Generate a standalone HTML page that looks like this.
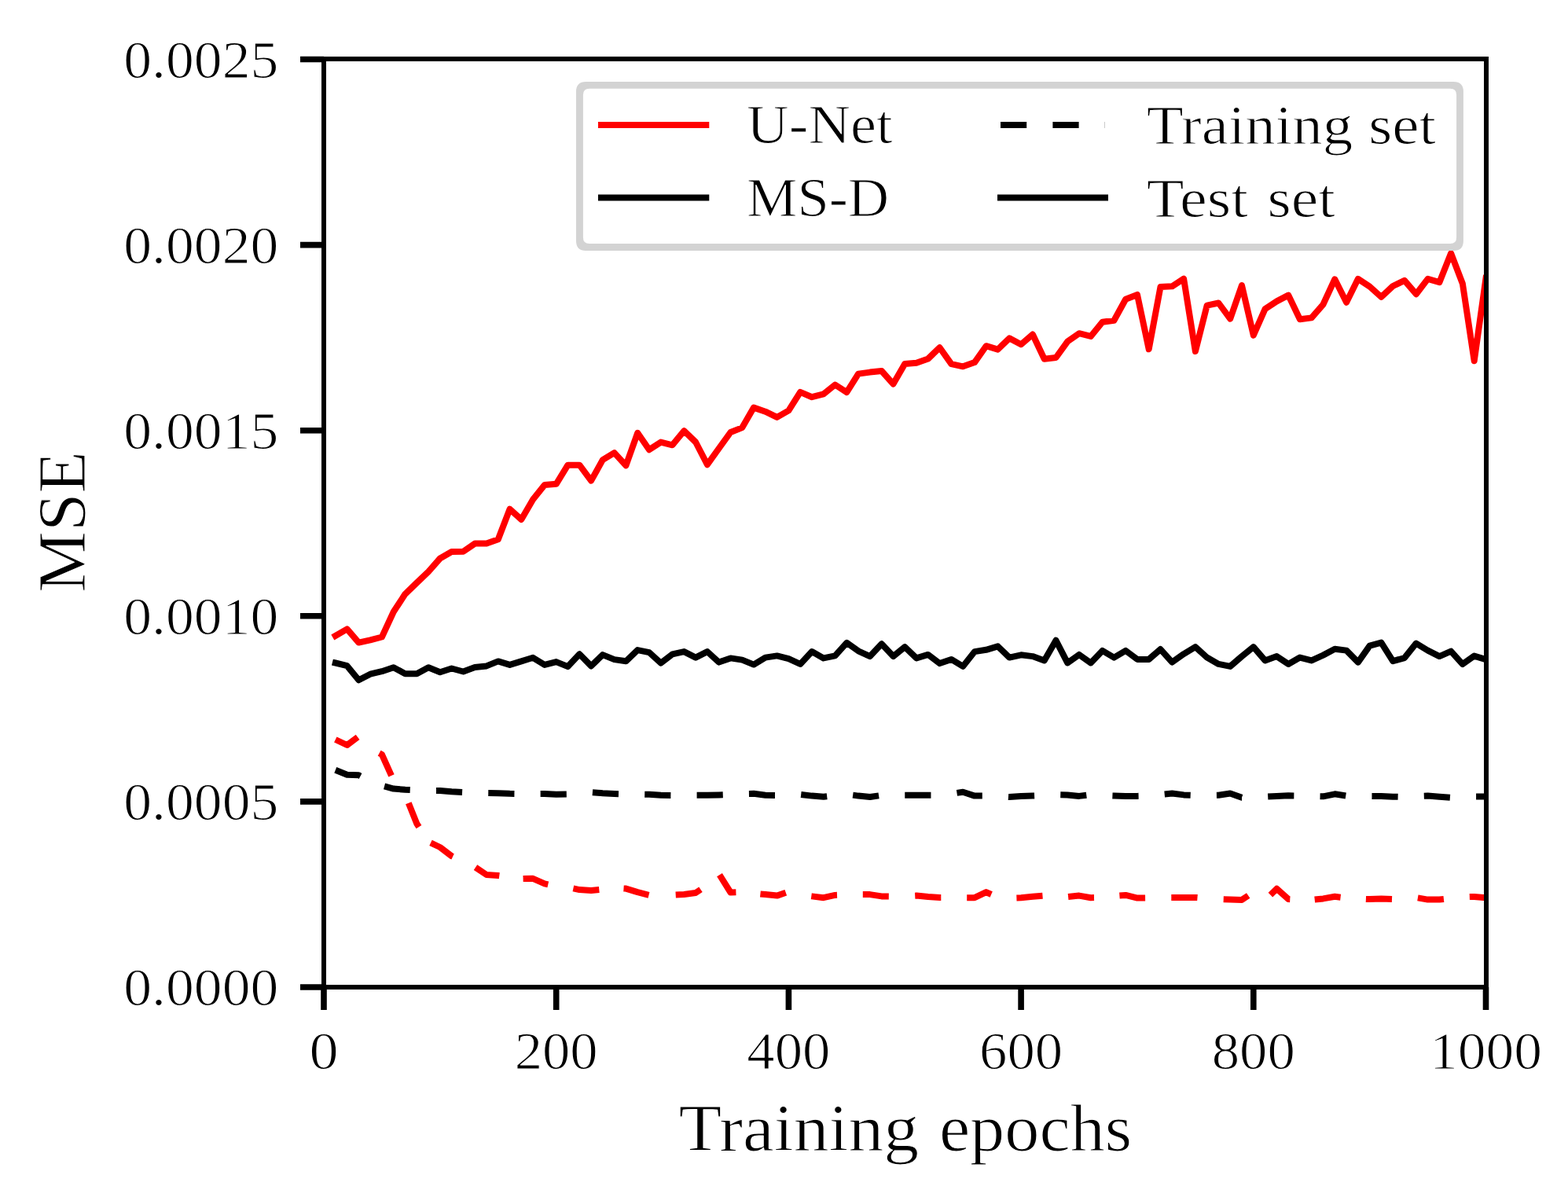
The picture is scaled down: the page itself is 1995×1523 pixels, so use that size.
<!DOCTYPE html>
<html><head><meta charset="utf-8"><title>MSE vs Training epochs</title>
<style>html,body{margin:0;padding:0;background:#fff;overflow:hidden;}svg{display:block;}text{font-family:"Liberation Serif", "DejaVu Serif", serif;fill:#000;stroke:#fff;stroke-width:1.1px;stroke-linejoin:round;}</style></head><body>
<svg width="1995" height="1523" viewBox="0 0 1995 1523">
<rect x="0" y="0" width="1995" height="1523" fill="#fff"/>
<defs><clipPath id="ax"><rect x="412" y="75" width="1479" height="1181"/></clipPath></defs>
<g clip-path="url(#ax)" fill="none" stroke-linejoin="round">
<polyline points="426.8,809.0 441.6,800.4 456.4,817.6 471.1,814.4 485.9,810.5 500.7,778.5 515.5,755.8 530.3,741.5 545.1,727.3 559.9,710.5 574.6,702.0 589.4,701.8 604.2,691.6 619.0,691.6 633.8,686.2 648.6,647.7 663.3,660.9 678.1,635.6 692.9,617.0 707.7,615.8 722.5,591.7 737.3,591.7 752.1,611.6 766.8,585.1 781.6,576.1 796.4,592.3 811.2,550.8 826.0,572.2 840.8,562.6 855.5,566.3 870.3,548.2 885.1,562.5 899.9,591.2 914.7,570.5 929.5,550.0 944.3,544.1 959.0,518.6 973.8,523.7 988.6,530.9 1003.4,522.4 1018.2,498.9 1033.0,505.2 1047.8,501.3 1062.5,489.5 1077.3,499.1 1092.1,475.6 1106.9,473.6 1121.7,472.0 1136.5,488.6 1151.2,463.1 1166.0,461.8 1180.8,456.5 1195.6,442.2 1210.4,463.1 1225.2,466.3 1240.0,461.1 1254.7,440.2 1269.5,444.6 1284.3,430.4 1299.1,438.2 1313.9,425.5 1328.7,456.8 1343.5,455.0 1358.2,434.6 1373.0,424.2 1387.8,427.9 1402.6,409.7 1417.4,407.7 1432.2,380.8 1447.0,375.0 1461.7,444.3 1476.5,365.0 1491.3,364.3 1506.1,354.6 1520.9,447.0 1535.7,388.6 1550.4,385.5 1565.2,405.6 1580.0,363.1 1594.8,426.6 1609.6,393.2 1624.4,383.4 1639.2,375.6 1653.9,406.3 1668.7,404.4 1683.5,387.3 1698.3,355.3 1713.1,384.7 1727.9,354.8 1742.7,364.6 1757.4,377.9 1772.2,364.0 1787.0,356.8 1801.8,374.2 1816.6,354.9 1831.4,359.2 1846.1,322.3 1860.9,361.0 1875.7,459.2 1890.5,354.0" stroke="#f00" stroke-width="8.0" stroke-linecap="square"/>
<polyline points="426.8,843.5 441.6,847.2 456.4,865.3 471.1,857.7 485.9,854.2 500.7,849.2 515.5,857.2 530.3,857.2 545.1,849.2 559.9,855.2 574.6,850.5 589.4,854.5 604.2,849.0 619.0,847.4 633.8,841.4 648.6,845.9 663.3,841.4 678.1,836.8 692.9,845.9 707.7,842.1 722.5,848.1 737.3,832.3 752.1,847.4 766.8,833.1 781.6,839.1 796.4,841.3 811.2,827.1 826.0,830.1 840.8,843.6 855.5,832.3 870.3,829.1 885.1,836.6 899.9,829.1 914.7,842.6 929.5,837.4 944.3,839.6 959.0,845.6 973.8,836.6 988.6,834.4 1003.4,838.1 1018.2,844.9 1033.0,829.1 1047.8,837.4 1062.5,834.4 1077.3,817.8 1092.1,828.3 1106.9,835.1 1121.7,819.3 1136.5,835.1 1151.2,823.1 1166.0,837.4 1180.8,832.9 1195.6,844.1 1210.4,838.9 1225.2,847.9 1240.0,829.1 1254.7,826.8 1269.5,822.3 1284.3,836.6 1299.1,833.3 1313.9,835.1 1328.7,840.4 1343.5,814.8 1358.2,843.4 1373.0,832.9 1387.8,843.4 1402.6,827.9 1417.4,836.6 1432.2,827.9 1447.0,838.9 1461.7,838.9 1476.5,826.1 1491.3,842.6 1506.1,832.1 1520.9,823.1 1535.7,836.6 1550.4,844.9 1565.2,847.9 1580.0,835.1 1594.8,823.1 1609.6,840.4 1624.4,835.1 1639.2,844.9 1653.9,836.6 1668.7,840.4 1683.5,833.6 1698.3,825.8 1713.1,827.6 1727.9,842.6 1742.7,821.6 1757.4,817.6 1772.2,841.1 1787.0,837.1 1801.8,818.6 1816.6,827.6 1831.4,835.1 1846.1,828.6 1860.9,845.1 1875.7,834.6 1890.5,839.1" stroke="#000" stroke-width="8.0" stroke-linecap="square"/>
<path d="M426.8,941.0 L441.6,948.0 L455.1,937.9 M482.6,958.2 L485.9,960.0 L498.0,986.9 M519.8,1021.8 L530.3,1048.0 L533.0,1052.2 M548.0,1072.4 L559.9,1078.0 L574.6,1089.2 L576.1,1089.9 M605.0,1103.6 L619.0,1113.0 L633.8,1114.0 L635.3,1114.2 M665.6,1118.1 L678.1,1117.8 L692.9,1124.3 L697.3,1125.3 M729.4,1130.4 L737.3,1132.1 L752.1,1132.9 L762.3,1131.9 M793.5,1130.4 L796.4,1130.6 L811.2,1135.1 L825.5,1138.8 M859.7,1138.6 L870.3,1138.0 L885.1,1136.0 L891.5,1131.7 M915.5,1113.2 L929.5,1135.5 L936.4,1135.3 M967.4,1137.4 L973.8,1138.1 L988.6,1139.6 L999.8,1135.7 M1032.3,1140.3 L1033.0,1140.4 L1047.8,1142.2 L1062.5,1138.9 L1065.0,1138.8 M1097.8,1138.1 L1106.9,1138.1 L1121.7,1140.4 L1130.8,1140.5 M1164.2,1139.7 L1166.0,1139.6 L1180.8,1141.1 L1195.6,1141.9 L1197.3,1141.9 M1230.2,1142.2 L1240.0,1142.2 L1254.7,1135.1 L1261.2,1138.0 M1293.4,1142.4 L1299.1,1142.2 L1313.9,1140.8 L1326.5,1139.8 M1359.1,1141.0 L1373.0,1139.6 L1387.8,1142.2 L1392.0,1142.1 M1424.4,1139.5 L1432.2,1138.9 L1447.0,1142.6 L1457.1,1142.5 M1490.3,1141.9 L1491.3,1141.9 L1506.1,1141.9 L1520.9,1141.9 L1523.5,1142.1 M1556.7,1144.2 L1565.2,1144.5 L1580.0,1144.9 L1588.2,1139.5 M1616.4,1138.6 L1624.4,1130.8 L1639.2,1144.1 L1641.3,1144.2 M1672.7,1144.6 L1683.5,1143.4 L1698.3,1140.8 L1705.6,1141.7 M1737.9,1143.9 L1742.7,1144.1 L1757.4,1143.4 L1771.0,1144.0 M1803.9,1142.4 L1816.6,1144.6 L1831.4,1144.6 L1836.9,1144.0 M1869.8,1141.1 L1875.7,1140.9 L1890.5,1142.3" stroke="#f00" stroke-width="8.0" stroke-linecap="butt"/>
<polyline points="426.8,979.8 441.6,985.7 456.4,986.3 471.1,994.0 485.9,999.5 500.7,1003.6 515.5,1004.7 530.3,1005.4 545.1,1006.0 559.9,1006.0 574.6,1007.3 589.4,1008.0 604.2,1008.5 619.0,1009.0 633.8,1009.2 648.6,1009.8 663.3,1010.0 678.1,1010.0 692.9,1010.0 707.7,1010.8 722.5,1010.5 737.3,1009.5 752.1,1008.0 766.8,1009.2 781.6,1010.0 796.4,1010.5 811.2,1010.5 826.0,1010.8 840.8,1011.8 855.5,1012.0 870.3,1012.0 885.1,1011.8 899.9,1011.8 914.7,1011.5 929.5,1011.0 944.3,1010.0 959.0,1009.8 973.8,1011.8 988.6,1012.0 1003.4,1011.5 1018.2,1010.8 1033.0,1012.6 1047.8,1013.8 1062.5,1012.0 1077.3,1010.5 1092.1,1012.6 1106.9,1014.0 1121.7,1011.8 1136.5,1011.8 1151.2,1011.8 1166.0,1011.8 1180.8,1011.8 1195.6,1011.8 1210.4,1010.0 1225.2,1007.7 1240.0,1012.6 1254.7,1012.6 1269.5,1013.0 1284.3,1014.0 1299.1,1012.9 1313.9,1012.6 1328.7,1012.0 1343.5,1011.0 1358.2,1011.4 1373.0,1012.9 1387.8,1011.0 1402.6,1012.0 1417.4,1012.6 1432.2,1012.9 1447.0,1012.9 1461.7,1012.5 1476.5,1011.0 1491.3,1009.5 1506.1,1011.4 1520.9,1012.0 1535.7,1012.0 1550.4,1011.8 1565.2,1009.5 1580.0,1014.8 1594.8,1014.5 1609.6,1013.8 1624.4,1012.9 1639.2,1012.3 1653.9,1012.5 1668.7,1013.0 1683.5,1013.3 1698.3,1010.3 1713.1,1012.6 1727.9,1012.8 1742.7,1012.9 1757.4,1012.9 1772.2,1013.7 1787.0,1014.0 1801.8,1013.0 1816.6,1012.5 1831.4,1013.7 1846.1,1014.8 1860.9,1014.0 1875.7,1013.4 1890.5,1013.4" stroke="#000" stroke-width="8.0" stroke-linecap="butt" stroke-dasharray="33.2 33.2"/>
</g>
<rect x="412" y="75" width="1479" height="1181" fill="none" stroke="#000" stroke-width="6"/>
<path d="M382,1256.0H412 M412.0,1256V1285 M382,1019.9H412 M707.7,1256V1285 M382,783.8H412 M1003.4,1256V1285 M382,547.7H412 M1299.1,1256V1285 M382,311.6H412 M1594.8,1256V1285 M382,75.5H412 M1890.5,1256V1285" stroke="#000" stroke-width="7.6" fill="none"/>
<text x="354.3" y="1279.3" font-size="68" text-anchor="end" textLength="197" lengthAdjust="spacingAndGlyphs">0.0000</text>
<text x="354.3" y="1043.2" font-size="68" text-anchor="end" textLength="197" lengthAdjust="spacingAndGlyphs">0.0005</text>
<text x="354.3" y="807.1" font-size="68" text-anchor="end" textLength="197" lengthAdjust="spacingAndGlyphs">0.0010</text>
<text x="354.3" y="571.0" font-size="68" text-anchor="end" textLength="197" lengthAdjust="spacingAndGlyphs">0.0015</text>
<text x="354.3" y="334.9" font-size="68" text-anchor="end" textLength="197" lengthAdjust="spacingAndGlyphs">0.0020</text>
<text x="354.3" y="98.8" font-size="68" text-anchor="end" textLength="197" lengthAdjust="spacingAndGlyphs">0.0025</text>
<text x="412.0" y="1360.3" font-size="68" text-anchor="middle" textLength="37.2" lengthAdjust="spacingAndGlyphs">0</text>
<text x="707.7" y="1360.3" font-size="68" text-anchor="middle" textLength="106.1" lengthAdjust="spacingAndGlyphs">200</text>
<text x="1003.4" y="1360.3" font-size="68" text-anchor="middle" textLength="106.1" lengthAdjust="spacingAndGlyphs">400</text>
<text x="1299.1" y="1360.3" font-size="68" text-anchor="middle" textLength="106.1" lengthAdjust="spacingAndGlyphs">600</text>
<text x="1594.8" y="1360.3" font-size="68" text-anchor="middle" textLength="106.1" lengthAdjust="spacingAndGlyphs">800</text>
<text x="1890.5" y="1360.3" font-size="68" text-anchor="middle" textLength="143" lengthAdjust="spacingAndGlyphs">1000</text>
<text y="1463.9" font-size="85"><tspan x="863.6" textLength="305.5" lengthAdjust="spacingAndGlyphs">Training</tspan> <tspan x="1194.9" textLength="245.34" lengthAdjust="spacingAndGlyphs">epochs</tspan></text>
<text transform="translate(108,663.9) rotate(-90)" x="0" y="0" font-size="86.5" text-anchor="middle" textLength="179.5" lengthAdjust="spacingAndGlyphs">MSE</text>
<path d="M749.9,112.8H1845.1Q1853.1,112.8 1853.1,120.8V302.0Q1853.1,310.0 1845.1,310.0H749.9Q741.9,310.0 741.9,302.0V120.8Q741.9,112.8 749.9,112.8Z" fill="#fff"/>
<path d="M745.5,104.0H1849.4Q1861.9,104.0 1861.9,116.5V306.4Q1861.9,318.9 1849.4,318.9H745.5Q733.0,318.9 733.0,306.4V116.5Q733.0,104.0 745.5,104.0ZM749.9,112.8H1845.1Q1853.1,112.8 1853.1,120.8V302.0Q1853.1,310.0 1845.1,310.0H749.9Q741.9,310.0 741.9,302.0V120.8Q741.9,112.8 749.9,112.8Z" fill="#d3d3d3" fill-rule="evenodd"/>
<path d="M765,159H898.3" stroke="#f00" stroke-width="8.0" stroke-linecap="square"/>
<path d="M765,251.4H898.3" stroke="#000" stroke-width="8.0" stroke-linecap="square"/>
<path d="M1273,159H1406" stroke="#000" stroke-width="8.0" stroke-dasharray="33.2 33.2"/>
<path d="M1273,251.4H1406" stroke="#000" stroke-width="8.0" stroke-linecap="square"/>
<text y="181.7" font-size="69"><tspan x="950.0" textLength="185.65" lengthAdjust="spacingAndGlyphs">U-Net</tspan></text>
<text y="275" font-size="69"><tspan x="950.0" textLength="181.14" lengthAdjust="spacingAndGlyphs">MS-D</tspan></text>
<text y="182.7" font-size="69"><tspan x="1458.75" textLength="262.4" lengthAdjust="spacingAndGlyphs">Training</tspan> <tspan x="1741.2" textLength="85.85" lengthAdjust="spacingAndGlyphs">set</tspan></text>
<text y="275.5" font-size="69"><tspan x="1458.75" textLength="129.29" lengthAdjust="spacingAndGlyphs">Test</tspan> <tspan x="1612.6" textLength="86.38" lengthAdjust="spacingAndGlyphs">set</tspan></text>
</svg></body></html>
